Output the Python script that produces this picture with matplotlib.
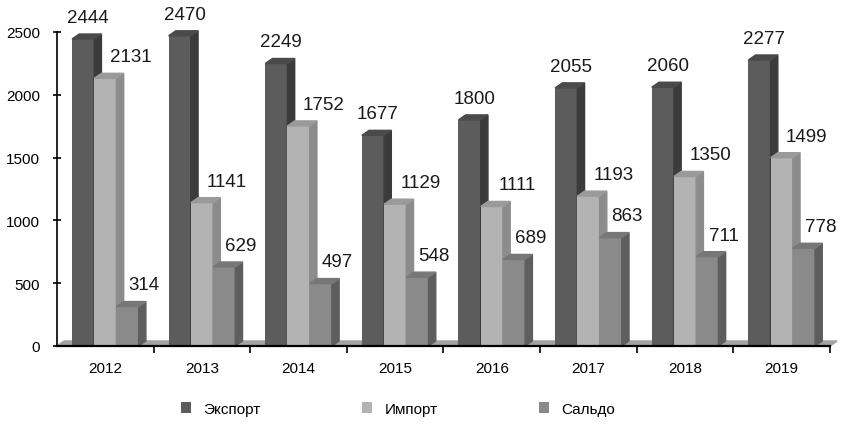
import numpy as np
import matplotlib.pyplot as plt
from matplotlib.patches import Polygon

# Data
years = ["2012", "2013", "2014", "2015", "2016", "2017", "2018", "2019"]
export = [2444, 2470, 2249, 1677, 1800, 2055, 2060, 2277]
imports = [2131, 1141, 1752, 1129, 1111, 1193, 1350, 1499]
saldo = [314, 629, 497, 548, 689, 863, 711, 778]
series_names = ["Экспорт", "Импорт", "Сальдо"]

plt.rcParams["font.family"] = ["Liberation Sans", "DejaVu Sans"]

fig = plt.figure(figsize=(8.45, 4.27), dpi=100)
ax = fig.add_axes([57 / 845, 1 - 347 / 427, 773 / 845, 314 / 427])

x = np.arange(len(years))
width = 0.23
dx, dy = 0.075, 40  # fake 3D depth

# (front, side, top) colours per series
colors = [("#5c5c5c", "#3b3b3b", "#4a4a4a"),
          ("#b3b3b3", "#8c8c8c", "#9a9a9a"),
          ("#8a8a8a", "#5e5e5e", "#777777")]
label_shift = [0.05, 0.26, 0.17]

# floor strip
ax.add_patch(Polygon([(-0.5, 0), (7.5, 0), (7.5 + dx, dy), (-0.5 + dx, dy)],
                     closed=True, color="#a2a2a2", zorder=1, clip_on=False))

for k, vals in enumerate([export, imports, saldo]):
    front, side, top = colors[k]
    xs = x + (k - 1) * width
    ax.bar(xs, vals, width, color=front, zorder=3 + k, clip_on=False, label=series_names[k])
    for xi, v in zip(xs, vals):
        l, r = xi - width / 2, xi + width / 2
        ax.add_patch(Polygon([(r, 0), (r + dx, dy), (r + dx, v + dy), (r, v)],
                             closed=True, color=side, zorder=3 + k, clip_on=False))
        ax.add_patch(Polygon([(l, v), (r, v), (r + dx, v + dy), (l + dx, v + dy)],
                             closed=True, color=top, zorder=3 + k, clip_on=False))
        ax.text(xi + label_shift[k], v + 105, str(v), ha="center", va="bottom",
                fontsize=13.5, color="#1a1a1a", zorder=10, clip_on=False)

ax.set_xlim(-0.5, 7.5)
ax.set_ylim(0, 2500)
ax.set_yticks([0, 500, 1000, 1500, 2000, 2500])
ax.set_xticks(x)
ax.set_xticklabels(years)
ax.set_xticks(np.arange(0.5, 8.0, 1), minor=True)
ax.tick_params(axis="x", which="major", length=0, pad=11, labelsize=11)
ax.tick_params(axis="x", which="minor", length=5, width=1.2, direction="out")
ax.tick_params(axis="y", length=6, width=1.2, direction="inout", pad=9, labelsize=11)

for s in ["top", "right"]:
    ax.spines[s].set_visible(False)
ax.spines["left"].set_linewidth(1.2)
ax.spines["bottom"].set_linewidth(1.6)
ax.spines["left"].set_zorder(12)
ax.spines["bottom"].set_zorder(12)

handles, labels = ax.get_legend_handles_labels()
fig.legend(handles, labels, loc="center", bbox_to_anchor=(0.471, 0.04), ncol=3,
           frameon=False, fontsize=11, handlelength=0.7, handleheight=0.7,
           columnspacing=6.6, handletextpad=0.8)

fig.savefig("out.png", dpi=100)
